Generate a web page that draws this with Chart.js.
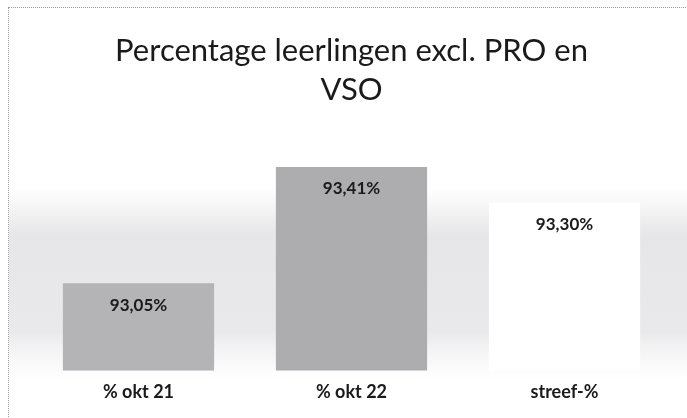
<!DOCTYPE html>
<html>
<head>
<meta charset="utf-8">
<script src="https://cdn.jsdelivr.net/npm/chart.js@4"></script>
<style>
    html, body { margin: 0; padding: 0; background: #fff; }
    #frame {
        position: absolute;
        left: 8px;
        top: 7px;
        width: 679px;
        height: 411px;
        border-left: 1px dotted #9a9a9a;
        border-top: 1px dotted #9a9a9a;
    }
    #chart { display: block; }
</style>
</head>
<body>
<div id="frame"><canvas id="chart" width="678" height="410"></canvas></div>
<script>
// ── Data ──────────────────────────────────────────────────────────────────────
const TITLE_LINES = ["Percentage leerlingen excl. PRO en", "VSO"];
const categories = ["% okt 21", "% okt 22", "streef-%"];
const values = [93.05, 93.41, 93.30];
const valueLabels = ["93,05%", "93,41%", "93,30%"];
const barColors = ["#b4b4b6", "#adadaf", "#ffffff"];

const FONT = "Lato, 'Open Sans', sans-serif";

// ── Plugins ───────────────────────────────────────────────────────────────────
// soft grey band behind the bars (photocopied gradient background)
const backdrop = {
    id: "backdrop",
    beforeDraw(chart) {
        const { ctx, width } = chart;
        ctx.save();
        ctx.fillStyle = "#ffffff";
        ctx.fillRect(0, 0, width, chart.height);
        const g = ctx.createLinearGradient(0, 180, 0, 372);
        g.addColorStop(0, "rgba(220,220,222,0)");
        g.addColorStop(0.25, "rgba(222,222,224,0.75)");
        g.addColorStop(0.75, "rgba(226,226,228,0.75)");
        g.addColorStop(1, "rgba(235,235,236,0)");
        ctx.fillStyle = g;
        ctx.fillRect(0, 180, width, 192);
        ctx.restore();
    }
};

// value labels just inside the top of each bar
const barValues = {
    id: "barValues",
    afterDatasetsDraw(chart) {
        const { ctx } = chart;
        const meta = chart.getDatasetMeta(0);
        ctx.save();
        ctx.font = `bold 17px ${FONT}`;
        ctx.fillStyle = "#1a1a1a";
        ctx.textAlign = "center";
        ctx.textBaseline = "middle";
        meta.data.forEach((bar, i) => {
            ctx.fillText(valueLabels[i], bar.x, bar.y + 22);
        });
        ctx.restore();
    }
};

// ── Chart ─────────────────────────────────────────────────────────────────────
new Chart(document.getElementById("chart"), {
    type: "bar",
    data: {
        labels: categories,
        datasets: [{
            data: values,
            backgroundColor: barColors,
            borderWidth: 0,
            categoryPercentage: 1,
            barPercentage: 0.71,
        }]
    },
    options: {
        responsive: false,
        animation: false,
        layout: { padding: { left: 23, right: 16, bottom: 12 } },
        plugins: {
            legend: { display: false },
            tooltip: { enabled: false },
            title: {
                display: true,
                text: TITLE_LINES,
                color: "#1a1a1a",
                font: { family: FONT, size: 31, weight: "normal", lineHeight: 1.26 },
                padding: { top: 23, bottom: 32 },
            }
        },
        scales: {
            y: {
                display: false,
                min: 92.78,
                max: 93.49,
            },
            x: {
                grid: { display: false },
                border: { display: false },
                ticks: {
                    color: "#1a1a1a",
                    padding: 3,
                    font: { family: FONT, size: 18, weight: "bold" },
                }
            }
        }
    },
    plugins: [backdrop, barValues],
});
</script>
</body>
</html>
